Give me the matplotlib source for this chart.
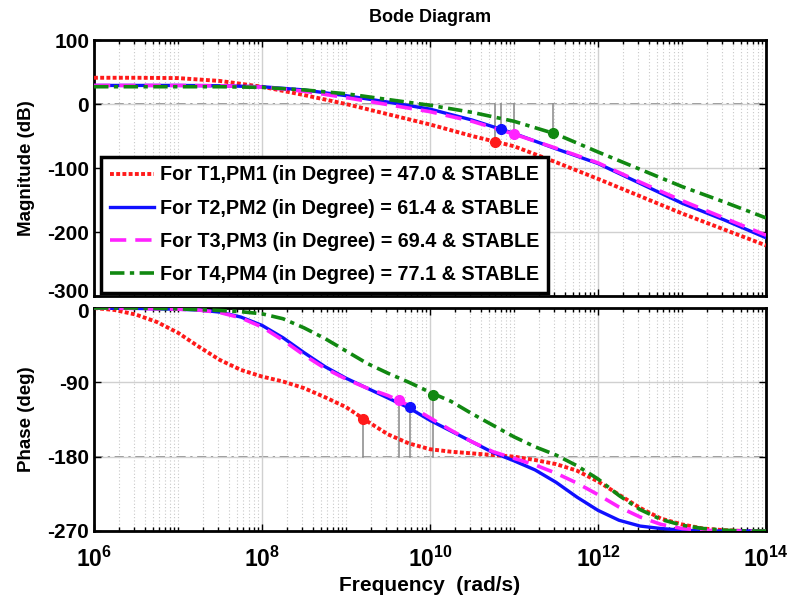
import numpy as np
import matplotlib
matplotlib.use("Agg")
import matplotlib.pyplot as plt
import matplotlib.transforms as mtransforms
from matplotlib.ticker import LogLocator, NullFormatter, FixedLocator

plt.rcParams['font.family'] = ['Liberation Sans', 'DejaVu Sans']
plt.rcParams['font.weight'] = 'bold'
plt.rcParams['axes.unicode_minus'] = False
plt.rcParams['mathtext.fontset'] = 'custom'
plt.rcParams['mathtext.rm'] = 'Liberation Sans:bold'
plt.rcParams['mathtext.bf'] = 'Liberation Sans:bold'
plt.rcParams['mathtext.it'] = 'Liberation Sans:bold'

# ---------------- data ----------------
labels = [
    "For T1,PM1 (in Degree) = 47.0 & STABLE",
    "For T2,PM2 (in Degree) = 61.4 & STABLE",
    "For T3,PM3 (in Degree) = 69.4 & STABLE",
    "For T4,PM4 (in Degree) = 77.1 & STABLE",
]

# magnitude, sampled every half decade (log10 of rad/s)
mag_logw = [6.0, 6.5, 7.0, 7.5, 8.0, 8.5, 9.0, 9.5, 10.0, 10.5, 11.0, 11.5, 12.0, 12.5, 13.0, 13.5, 14.0]
mag_t1 = [41, 41, 40.5, 36, 27, 14, 0, -16, -32, -50, -66, -91, -117, -144, -171, -196, -221]
mag_t2 = [29, 29, 29, 28.5, 27, 22, 13, 3, -8, -25, -46, -70, -93, -124, -155, -181, -209]
mag_t3 = [29, 29, 29, 28.5, 26.5, 20, 10, -1, -12, -27, -47, -69, -92, -122, -151, -178, -205]
mag_t4 = [27, 27, 27, 27, 26, 22, 16, 7, -2, -13, -27, -47, -75, -102, -129, -153, -178]

# phase, sampled every quarter decade
ph_logw = [6.0, 6.25, 6.5, 6.75, 7.0, 7.25, 7.5, 7.75, 8.0, 8.25, 8.5, 8.75, 9.0, 9.25, 9.5, 9.75,
           10.0, 10.25, 10.5, 10.75, 11.0, 11.25, 11.5, 11.75, 12.0, 12.25, 12.5, 12.75, 13.0, 13.25,
           13.5, 13.75, 14.0]
ph_t1 = [0, -2.5, -8, -17, -30, -47, -63, -75, -83, -89, -97, -108, -120, -137, -153, -164,
         -171, -174, -176, -178, -180, -184, -189, -197, -210, -226, -242, -255, -262, -267,
         -269, -270, -270]
ph_t2 = [0, -0.3, -0.5, -1, -1.5, -2.5, -5, -11, -21, -36, -54, -71, -85, -97, -109, -121,
         -136, -149, -162, -175, -185, -196, -211, -229, -245, -257, -264, -267, -269, -270,
         -270, -270, -270]
ph_t3 = [0, -0.3, -0.5, -1, -1.5, -2.5, -5.5, -12, -23, -39, -57, -73, -86, -97, -106, -118,
         -133, -148, -162, -174, -182, -190, -200, -212, -226, -241, -253, -262, -267, -269,
         -270, -270, -270]
ph_t4 = [0, 0, 0, -0.5, -1, -2, -3, -4.5, -7, -13, -24, -37, -52, -67, -79, -90,
         -102, -113, -128, -142, -156, -168, -178, -191, -207, -227, -244, -256, -263, -267,
         -269, -270, -270]

# margin markers (log10 w, value)
gm_logw = [10.77, 10.85, 11.0, 11.47]
gm_mag = [-59, -39, -47, -45]
pm_logw = [9.20, 9.76, 9.63, 10.04]
pm_phase = [-134, -120, -111, -105]

mag_ticks = [100, 0, -100, -200, -300]
ph_ticks = [0, -90, -180, -270]
x_tick_exp = [6, 8, 10, 12, 14]

colors = ['#ff1a1a', '#1010ff', '#ff22ff', '#118811']
styles = [(0, (1.0, 0.6)), '-', (0, (4.5, 2.5)), (0, (4.0, 1.5, 1.2, 1.5))]
widths = [2.8, 2.4, 2.6, 2.6]

mags = [mag_t1, mag_t2, mag_t3, mag_t4]
phs = [ph_t1, ph_t2, ph_t3, ph_t4]

# ---------------- figure ----------------
W, H = 789, 602
fig = plt.figure(figsize=(W / 100, H / 100), dpi=100)
L, R = 94 / W, 766 / W
ax1 = fig.add_axes([L, 1 - 296 / H, R - L, (296 - 40) / H])
ax2 = fig.add_axes([L, 1 - 531 / H, R - L, (531 - 308) / H])

wm = 10.0 ** np.array(mag_logw)
wp = 10.0 ** np.array(ph_logw)

handles = []
for i in range(4):
    h, = ax1.plot(wm, mags[i], color=colors[i], ls=styles[i], lw=widths[i], label=labels[i], zorder=3)
    handles.append(h)
    ax2.plot(wp, phs[i], color=colors[i], ls=styles[i], lw=widths[i], zorder=3)

# margin indicator lines & markers
for i in range(4):
    x = 10.0 ** gm_logw[i]
    ax1.plot([x, x], [0, gm_mag[i]], color='#888888', lw=1.1, zorder=2)
    ax1.plot([x], [gm_mag[i]], 'o', color=colors[i], ms=7, zorder=4)
    xp = 10.0 ** pm_logw[i]
    ax2.plot([xp, xp], [-180, pm_phase[i]], color='#888888', lw=1.1, zorder=2)
    ax2.plot([xp], [pm_phase[i]], 'o', color=colors[i], ms=7, zorder=4)

for ax, ticks, ref in [(ax1, mag_ticks, 0), (ax2, ph_ticks, -180)]:
    ax.set_xscale('log')
    ax.set_xlim(1e6, 1e14)
    ax.set_ylim(min(ticks), max(ticks))
    ax.set_yticks(ticks)
    ax.xaxis.set_major_locator(FixedLocator([10.0 ** e for e in x_tick_exp]))
    ax.xaxis.set_minor_locator(LogLocator(base=10, subs=np.arange(1, 10), numticks=100))
    ax.xaxis.set_minor_formatter(NullFormatter())
    ax.grid(True, which='major', axis='both', color='#d0d0d0', lw=1.0, ls='-', zorder=0)
    ax.grid(True, which='minor', axis='x', color='#c8c8c8', lw=0.8, ls=(0, (1, 2)), zorder=0)
    ax.axhline(ref, color='#777777', lw=1.1, ls=(0, (6, 3, 1.5, 3)), zorder=1)
    for s in ax.spines.values():
        s.set_linewidth(2.0)
    ax.tick_params(which='both', direction='in', top=True, right=True, width=1.0)
    ax.tick_params(which='major', length=5, labelsize=15)
    ax.tick_params(which='minor', length=3)
    for lab in ax.get_yticklabels():
        lab.set_fontweight('bold')

ax1.tick_params(labelbottom=False)
ax2.set_xticklabels([r'$\mathbf{10^{%d}}$' % e for e in x_tick_exp])
ax2.tick_params(axis='x', pad=11, labelsize=16.5)

# nudge the stacked -300 / 0 labels apart a little, as in the reference
ylabs1 = ax1.get_yticklabels()
ylabs1[-1].set_transform(ylabs1[-1].get_transform() +
                         mtransforms.ScaledTranslation(0, 5 / 100, fig.dpi_scale_trans))
ylabs2 = ax2.get_yticklabels()
ylabs2[0].set_transform(ylabs2[0].get_transform() +
                        mtransforms.ScaledTranslation(0, -2 / 100, fig.dpi_scale_trans))

ax1.set_ylabel('Magnitude (dB)', fontsize=13.5, fontweight='bold')
ax2.set_ylabel('Phase (deg)', fontsize=13.5, fontweight='bold')
ax1.yaxis.set_label_coords(-0.088, 0.5)
ax2.yaxis.set_label_coords(-0.088, 0.5)
ax2.set_xlabel('Frequency  (rad/s)', fontsize=15, fontweight='bold', labelpad=3)

fig.text((94 + 766) / 2 / W, 1 - 18 / H, 'Bode Diagram', ha='center', va='center',
         fontsize=13, fontweight='bold')

leg = ax1.legend(handles=handles, loc='lower left', bbox_to_anchor=(0.011, 0.012),
                 borderaxespad=0, fancybox=False, framealpha=1, edgecolor='black',
                 prop={'size': 14.2, 'weight': 'bold'}, handlelength=2.2, handletextpad=0.3,
                 labelspacing=0.72, borderpad=0.45)
leg.get_frame().set_linewidth(2.5)
leg.set_zorder(10)

fig.savefig('out.png', dpi=100)
